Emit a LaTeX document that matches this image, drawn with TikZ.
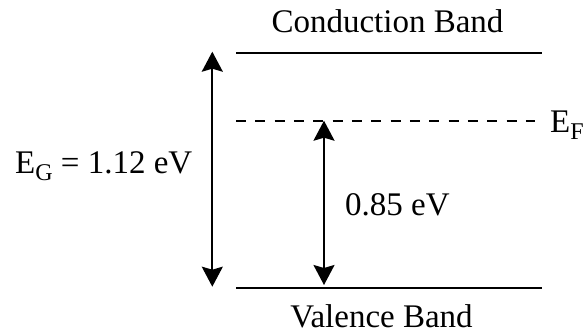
\documentclass[tikz,border=0pt]{standalone}
\usepackage{fontspec}
\setmainfont{Liberation Serif}
\usetikzlibrary{arrows.meta}
\tikzset{
  band/.style={line width=2pt},
  fermi/.style={line width=2pt, dash pattern=on 10pt off 9.33pt},
  gaparrow/.style={line width=2pt, {Stealth[length=20pt,width=21pt,inset=3pt]}-{Stealth[length=20pt,width=21pt,inset=3pt]}},
  lbl/.style={inner sep=0pt, font=\fontsize{33}{39}\selectfont},
}
\newcommand{\mysub}[1]{\raisebox{-7pt}{\fontsize{24}{24}\selectfont #1}}
\begin{document}
\begin{tikzpicture}[x=1pt,y=1pt]
\useasboundingbox (0,0) rectangle (586,334);
% band lines
\coordinate (cbL) at (236,281.3);
\coordinate (cbR) at (542,281.3);
\coordinate (efL) at (236,213.3);
\coordinate (efR) at (535,213.3);
\coordinate (vbL) at (236,45.7);
\coordinate (vbR) at (542,45.7);
\draw[band] (cbL) -- (cbR);
\draw[fermi] (efL) -- (efR);
\draw[band] (vbL) -- (vbR);
% arrows
\coordinate (gapTop) at (212.3,282.3);
\coordinate (gapBot) at (212.3,47.3);
\coordinate (efTop) at (324,213.3);
\coordinate (efBot) at (324,49);
\draw[gaparrow] (gapBot) -- (gapTop);
\draw[gaparrow] (efBot) -- (efTop);
% labels
\node[lbl, anchor=base] (cb) at (387.5,301.7) {Conduction Band};
\node[lbl, anchor=base] (vb) at (381.5,6) {Valence Band};
\node[lbl, anchor=base west] (eg) at (15,160.7) {E\mysub{G} = 1.12 eV};
\node[lbl, anchor=base west] (d) at (345,118) {0.85 eV};
\node[lbl, anchor=base west] (ef) at (550,201.3) {E\mysub{F}};
\end{tikzpicture}
\end{document}
